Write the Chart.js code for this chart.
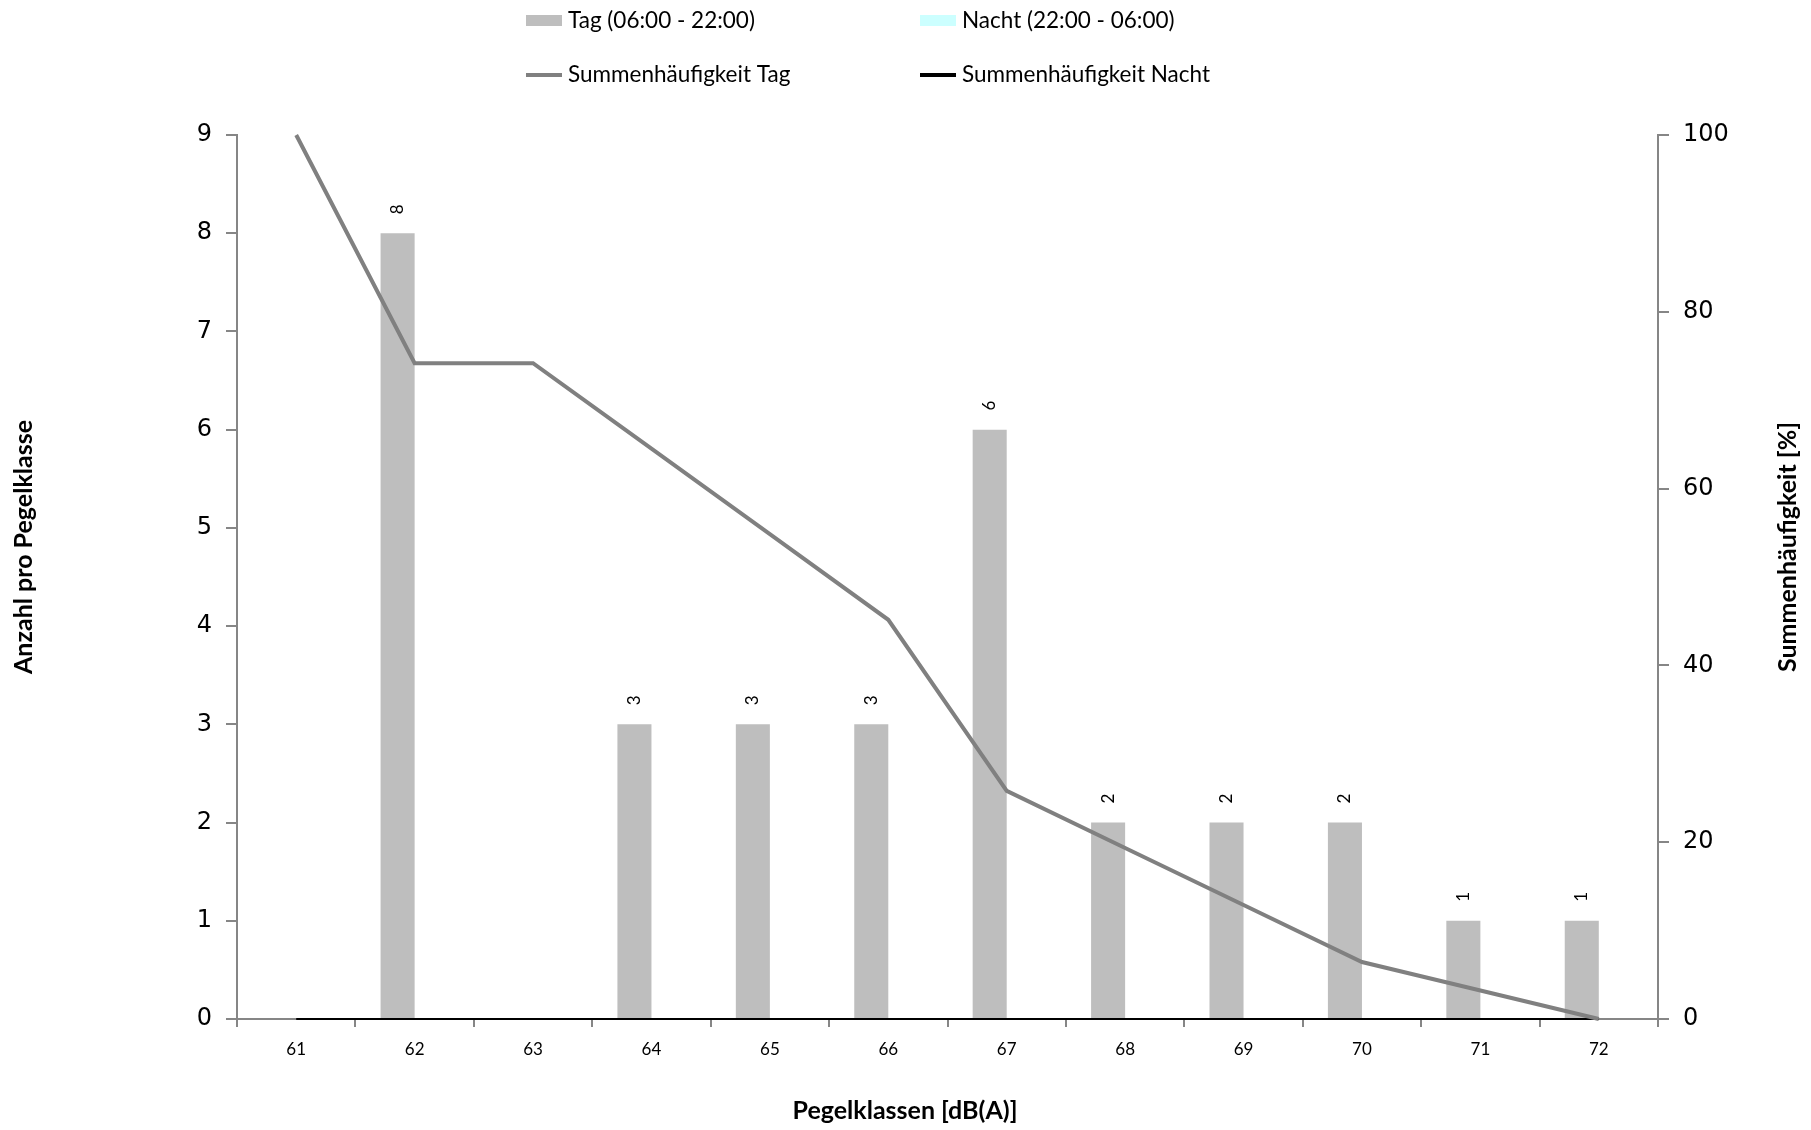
<!DOCTYPE html>
<html>
<head>
<meta charset="utf-8">
<script src="https://cdn.jsdelivr.net/npm/chart.js@4.4.1/dist/chart.umd.min.js"></script>
<style>
  html, body { margin: 0; padding: 0; background: #ffffff; }
  #wrap { position: relative; width: 1811px; height: 1130px; }
</style>
</head>
<body>
<div id="wrap"><canvas id="c"></canvas></div>
<script>
// ---- data ----
const categories = ['61', '62', '63', '64', '65', '66', '67', '68', '69', '70', '71', '72'];
const tagCounts = [0, 8, 0, 3, 3, 3, 6, 2, 2, 2, 1, 1];
const nachtCounts = [0, 0, 0, 0, 0, 0, 0, 0, 0, 0, 0, 0];
const summeTag = [100, 74.19, 74.19, 64.52, 54.84, 45.16, 25.81, 19.35, 12.90, 6.45, 3.23, 0];
const summeNacht = [0, 0, 0, 0, 0, 0, 0, 0, 0, 0, 0, 0];
const leftTicks = [0, 1, 2, 3, 4, 5, 6, 7, 8, 9];
const rightTicks = [0, 20, 40, 60, 80, 100];
const seriesLabels = ['Tag (06:00 - 22:00)', 'Nacht (22:00 - 06:00)', 'Summenhäufigkeit Tag', 'Summenhäufigkeit Nacht'];
const titleLeft = 'Anzahl pro Pegelklasse';
const titleRight = 'Summenhäufigkeit [%]';
const titleX = 'Pegelklassen [dB(A)]';

const AXIS = '#868686';
const FONT = 'Lato, "Open Sans", sans-serif';

// data labels above the Tag bars, rotated
const barLabels = {
  id: 'barLabels',
  afterDatasetsDraw(chart) {
    const meta = chart.getDatasetMeta(0);
    const ctx = chart.ctx;
    ctx.save();
    ctx.fillStyle = '#000';
    ctx.font = '17px ' + FONT;
    ctx.textAlign = 'center';
    ctx.textBaseline = 'middle';
    meta.data.forEach((el, i) => {
      const v = chart.data.datasets[0].data[i];
      if (!v) return;
      ctx.save();
      ctx.translate(el.x, el.y - 24);
      ctx.rotate(-Math.PI / 2);
      ctx.fillText(String(v), 0, 0);
      ctx.restore();
    });
    ctx.restore();
  }
};

// custom legend (2 x 2 grid) and axis titles
const extras = {
  id: 'extras',
  afterDraw(chart) {
    const ctx = chart.ctx;
    const ds = chart.data.datasets;
    const cols = [526, 920];
    const rows = [21, 75];
    ctx.save();
    ctx.font = '22.5px ' + FONT;
    ctx.textBaseline = 'middle';
    ctx.textAlign = 'left';
    ds.forEach((d, i) => {
      const x = cols[i % 2];
      const y = rows[Math.floor(i / 2)];
      if (d.type === 'line') {
        ctx.fillStyle = d.borderColor;
        ctx.fillRect(x, y - 2, 36, 4);
      } else {
        ctx.fillStyle = d.backgroundColor;
        ctx.fillRect(x, y - 6, 36, 11);
      }
      ctx.fillStyle = '#000';
      ctx.fillText(d.label, x + 42, y);
    });

    ctx.font = 'bold 25px ' + FONT;
    ctx.textAlign = 'center';
    ctx.save();
    ctx.translate(24, 547);
    ctx.rotate(-Math.PI / 2);
    ctx.fillText(titleLeft, 0, 0);
    ctx.restore();

    ctx.font = 'bold 25px ' + FONT;
    ctx.save();
    ctx.translate(1788, 547);
    ctx.rotate(-Math.PI / 2);
    ctx.fillText(titleRight, 0, 0);
    ctx.restore();

    ctx.font = 'bold 25px ' + FONT;
    ctx.fillText(titleX, 905, 1111);
    ctx.restore();
  }
};

new Chart(document.getElementById('c'), {
  data: {
    labels: categories,
    datasets: [
      { type: 'bar', label: seriesLabels[0], data: tagCounts, backgroundColor: '#BEBEBE', yAxisID: 'y', order: 1,
        categoryPercentage: 0.575, barPercentage: 1.0 },
      { type: 'bar', label: seriesLabels[1], data: nachtCounts, backgroundColor: '#CCFFFF', yAxisID: 'y', order: 1,
        categoryPercentage: 0.575, barPercentage: 1.0 },
      { type: 'line', label: seriesLabels[2], data: summeTag, borderColor: '#808080', backgroundColor: '#808080',
        borderWidth: 4, pointRadius: 0, tension: 0, yAxisID: 'y1', order: 0, clip: false },
      { type: 'line', label: seriesLabels[3], data: summeNacht, borderColor: '#000000', backgroundColor: '#000000',
        borderWidth: 2, pointRadius: 0, tension: 0, yAxisID: 'y1', order: 2, clip: false }
    ]
  },
  options: {
    responsive: true,
    maintainAspectRatio: false,
    animation: false,
    layout: { padding: { top: 135, left: 0, right: 0, bottom: 0 } },
    plugins: {
      legend: { display: false },
      tooltip: { enabled: false },
      title: { display: false }
    },
    scales: {
      x: {
        type: 'category',
        offset: true,
        afterFit(s) { s.height = 111; },
        grid: { display: true, offset: true, drawOnChartArea: false, drawTicks: true, tickLength: 8, color: AXIS, lineWidth: 2 },
        border: { display: true, color: AXIS, width: 2 },
        ticks: { color: '#000', font: { family: FONT, size: 17 }, padding: 12, maxRotation: 0, autoSkip: false }
      },
      y: {
        position: 'left',
        min: leftTicks[0],
        max: leftTicks[leftTicks.length - 1],
        afterFit(s) { s.width = 237; },
        afterBuildTicks(s) { s.ticks = leftTicks.map(v => ({ value: v })); },
        grid: { drawOnChartArea: false, drawTicks: true, tickLength: 11, color: AXIS, lineWidth: 2 },
        border: { display: true, color: AXIS, width: 2 },
        ticks: { color: '#000', font: { family: '"DejaVu Sans", sans-serif', size: 24 }, padding: 14 }
      },
      y1: {
        position: 'right',
        min: rightTicks[0],
        max: rightTicks[rightTicks.length - 1],
        afterFit(s) { s.width = 153; },
        afterBuildTicks(s) { s.ticks = rightTicks.map(v => ({ value: v })); },
        grid: { drawOnChartArea: false, drawTicks: true, tickLength: 11, color: AXIS, lineWidth: 2 },
        border: { display: true, color: AXIS, width: 2 },
        ticks: { color: '#000', font: { family: '"DejaVu Sans", sans-serif', size: 24 }, padding: 14 }
      }
    }
  },
  plugins: [barLabels, extras]
});
</script>
</body>
</html>
